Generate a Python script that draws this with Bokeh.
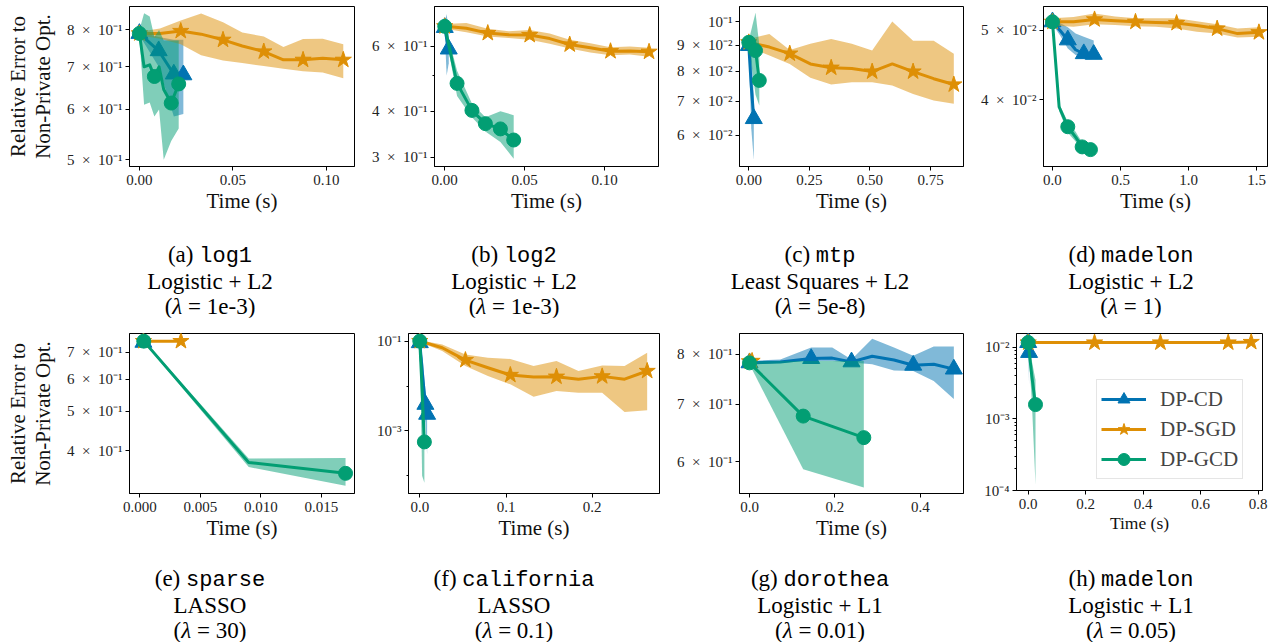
from bokeh.plotting import figure
from bokeh.layouts import row, column
from bokeh.models import Range1d, FixedTicker, Div, Legend, LegendItem
from bokeh.embed import file_html
from bokeh.resources import INLINE

# ---------------- data ----------------
# (a) log1
a_cd_t = [0.0, 0.0103, 0.0184, 0.0235]
a_cd_y = [0.790, 0.742, 0.682, 0.680]
a_cd_lo = [0.785, 0.700, 0.585, 0.590]
a_cd_hi = [0.795, 0.780, 0.772, 0.772]
a_cd_mk = [0, 1, 2, 3]
a_sgd_t = [0.0, 0.011, 0.0221, 0.033, 0.0447, 0.055, 0.0665, 0.077, 0.0875, 0.098, 0.109]
a_sgd_y = [0.790, 0.790, 0.797, 0.788, 0.772, 0.755, 0.740, 0.718, 0.718, 0.722, 0.718]
a_sgd_lo = [0.785, 0.775, 0.760, 0.730, 0.716, 0.710, 0.702, 0.695, 0.689, 0.686, 0.672]
a_sgd_hi = [0.795, 0.804, 0.828, 0.849, 0.823, 0.793, 0.781, 0.752, 0.774, 0.775, 0.760]
a_sgd_mk = [0, 2, 4, 6, 8, 10]
a_gcd_t = [0.0, 0.0025, 0.0055, 0.008, 0.0105, 0.013, 0.017, 0.021]
a_gcd_y = [0.790, 0.700, 0.705, 0.676, 0.700, 0.645, 0.614, 0.658]
a_gcd_lo = [0.780, 0.610, 0.615, 0.585, 0.600, 0.500, 0.535, 0.560]
a_gcd_hi = [0.800, 0.850, 0.840, 0.780, 0.800, 0.770, 0.770, 0.770]
a_gcd_mk = [0, 3, 6, 7]

# (b) log2
b_cd_t = [0.0, 0.0012, 0.0025]
b_cd_y = [0.675, 0.630, 0.590]
b_cd_lo = [0.660, 0.500, 0.540]
b_cd_hi = [0.690, 0.735, 0.660]
b_cd_mk = [0, 2]
b_sgd_t = [0.0, 0.0135, 0.0269, 0.040, 0.0531, 0.0656, 0.0781, 0.091, 0.1036, 0.1157, 0.1277]
b_sgd_y = [0.680, 0.672, 0.652, 0.645, 0.644, 0.630, 0.607, 0.595, 0.582, 0.583, 0.580]
b_sgd_lo = [0.670, 0.655, 0.638, 0.632, 0.625, 0.610, 0.592, 0.577, 0.568, 0.570, 0.562]
b_sgd_hi = [0.690, 0.695, 0.670, 0.660, 0.665, 0.650, 0.625, 0.612, 0.597, 0.600, 0.595]
b_sgd_mk = [0, 2, 4, 6, 8, 10]
b_gcd_t = [0.0, 0.0077, 0.017, 0.0254, 0.0348, 0.0431]
b_gcd_y = [0.680, 0.476, 0.402, 0.370, 0.358, 0.334]
b_gcd_lo = [0.665, 0.440, 0.385, 0.352, 0.330, 0.297]
b_gcd_hi = [0.695, 0.515, 0.420, 0.385, 0.400, 0.390]
b_gcd_mk = [0, 1, 2, 3, 4, 5]

# (c) mtp
c_cd_t = [0.0, 0.010, 0.0206]
c_cd_y = [0.0898, 0.0750, 0.0647]
c_cd_lo = [0.0880, 0.0620, 0.0538]
c_cd_hi = [0.0910, 0.0880, 0.0720]
c_cd_mk = [0, 2]
c_sgd_t = [0.0, 0.085, 0.169, 0.254, 0.340, 0.425, 0.509, 0.592, 0.678, 0.763, 0.846]
c_sgd_y = [0.0911, 0.0892, 0.0866, 0.0827, 0.0813, 0.0810, 0.0799, 0.0827, 0.0799, 0.0774, 0.0754]
c_sgd_lo = [0.0890, 0.0859, 0.0827, 0.0777, 0.0754, 0.0762, 0.0762, 0.0751, 0.0723, 0.0702, 0.0692]
c_sgd_hi = [0.0925, 0.0946, 0.0880, 0.0905, 0.0925, 0.0905, 0.0878, 0.1000, 0.0918, 0.0918, 0.0866]
c_sgd_mk = [0, 2, 4, 6, 8, 10]
c_gcd_t = [0.0, 0.0277, 0.0433]
c_gcd_y = [0.0911, 0.0878, 0.0768]
c_gcd_lo = [0.0900, 0.0720, 0.0686]
c_gcd_hi = [0.0920, 0.1040, 0.0900]
c_gcd_mk = [0, 1, 2]

# (d) madelon L2
d_cd_t = [0.0, 0.056, 0.1125, 0.170, 0.230, 0.303]
d_cd_y = [0.0514, 0.0500, 0.0485, 0.0470, 0.0464, 0.0463]
d_cd_lo = [0.0510, 0.0492, 0.0472, 0.0462, 0.0458, 0.0457]
d_cd_hi = [0.0518, 0.0512, 0.0505, 0.0495, 0.0490, 0.0484]
d_cd_mk = [0, 2, 4, 5]
d_sgd_t = [0.0, 0.155, 0.309, 0.460, 0.610, 0.760, 0.912, 1.060, 1.210, 1.360, 1.517]
d_sgd_y = [0.0514, 0.0514, 0.0518, 0.0516, 0.0514, 0.0513, 0.0512, 0.0508, 0.0503, 0.0495, 0.0497]
d_sgd_lo = [0.0508, 0.0506, 0.0510, 0.0509, 0.0507, 0.0506, 0.0503, 0.0498, 0.0495, 0.0489, 0.0490]
d_sgd_hi = [0.0520, 0.0522, 0.0528, 0.0523, 0.0520, 0.0520, 0.0520, 0.0515, 0.0510, 0.0503, 0.0505]
d_sgd_mk = [0, 2, 4, 6, 8, 10]
d_gcd_t = [0.0, 0.049, 0.1125, 0.170, 0.218, 0.279]
d_gcd_y = [0.0514, 0.0391, 0.0367, 0.0355, 0.0344, 0.0341]
d_gcd_lo = [0.0512, 0.0386, 0.0360, 0.0350, 0.0339, 0.0337]
d_gcd_hi = [0.0516, 0.0395, 0.0373, 0.0361, 0.0349, 0.0345]
d_gcd_mk = [0, 2, 4, 5]

# (e) sparse
e_cd_t = [0.0003]
e_cd_y = [0.740]
e_cd_lo = [0.738]
e_cd_hi = [0.742]
e_cd_mk = [0]
e_sgd_t = [0.0003, 0.0034]
e_sgd_y = [0.745, 0.745]
e_sgd_lo = [0.743, 0.743]
e_sgd_hi = [0.747, 0.747]
e_sgd_mk = [0, 1]
e_gcd_t = [0.00033, 0.0090, 0.0170]
e_gcd_y = [0.745, 0.3745, 0.352]
e_gcd_lo = [0.740, 0.365, 0.328]
e_gcd_hi = [0.750, 0.383, 0.384]
e_gcd_mk = [0, 2]

# (f) california
f_cd_t = [0.0, 0.0035, 0.0065, 0.0085]
f_cd_y = [0.092, 0.015, 0.0039, 0.00234]
f_cd_lo = [0.085, 0.005, 0.0015, 0.0003]
f_cd_hi = [0.100, 0.040, 0.0080, 0.0040]
f_cd_mk = [0, 2, 3]
f_sgd_t = [0.0, 0.026, 0.0529, 0.079, 0.105, 0.132, 0.1585, 0.184, 0.2115, 0.2375, 0.2637]
f_sgd_y = [0.100, 0.071, 0.0378, 0.0255, 0.0176, 0.0158, 0.0161, 0.0142, 0.0164, 0.0142, 0.0216]
f_sgd_lo = [0.095, 0.060, 0.0278, 0.0167, 0.0109, 0.0058, 0.0077, 0.0071, 0.0071, 0.00264, 0.0029]
f_sgd_hi = [0.105, 0.084, 0.050, 0.0426, 0.040, 0.0278, 0.036, 0.0216, 0.0287, 0.0278, 0.055]
f_sgd_mk = [0, 2, 4, 6, 8, 10]
f_gcd_t = [0.0, 0.0027, 0.0053]
f_gcd_y = [0.100, 0.008, 0.00057]
f_gcd_lo = [0.095, 0.0001, 0.00007]
f_gcd_hi = [0.105, 0.030, 0.0015]
f_gcd_mk = [0, 2]

# (g) dorothea
g_cd_t = [0.0, 0.072, 0.1443, 0.1935, 0.2386, 0.287, 0.338, 0.383, 0.431, 0.478]
g_cd_y = [0.782, 0.784, 0.791, 0.792, 0.784, 0.796, 0.788, 0.777, 0.779, 0.769]
g_cd_lo = [0.778, 0.782, 0.786, 0.786, 0.783, 0.779, 0.766, 0.765, 0.745, 0.710]
g_cd_hi = [0.786, 0.789, 0.815, 0.815, 0.789, 0.834, 0.815, 0.797, 0.817, 0.817]
g_cd_mk = [0, 2, 4, 7, 9]
g_sgd_t = [0.0, 0.006]
g_sgd_y = [0.785, 0.786]
g_sgd_lo = [0.783, 0.784]
g_sgd_hi = [0.787, 0.788]
g_sgd_mk = [0, 1]
g_gcd_t = [0.0, 0.1256, 0.2674]
g_gcd_y = [0.782, 0.678, 0.640]
g_gcd_lo = [0.779, 0.588, 0.560]
g_gcd_hi = [0.785, 0.786, 0.786]
g_gcd_mk = [0, 1, 2]

# (h) madelon L1
h_cd_t = [0.0, 0.003]
h_cd_y = [0.0117, 0.0085]
h_cd_lo = [0.0110, 0.0030]
h_cd_hi = [0.0125, 0.0110]
h_cd_mk = [0, 1]
h_sgd_t = [0.0, 0.2307, 0.460, 0.6957, 0.7757]
h_sgd_y = [0.0117, 0.0117, 0.0117, 0.0117, 0.0119]
h_sgd_lo = [0.0114, 0.0114, 0.0114, 0.0114, 0.0116]
h_sgd_hi = [0.0120, 0.0120, 0.0120, 0.0120, 0.0122]
h_sgd_mk = [0, 1, 2, 3, 4]
h_gcd_t = [0.0, 0.0125, 0.0254]
h_gcd_y = [0.0117, 0.0040, 0.00159]
h_gcd_lo = [0.0110, 0.0018, 0.00012]
h_gcd_hi = [0.0125, 0.0065, 0.0035]
h_gcd_mk = [0, 2]

# tick values / labels
a_xticks = [0.0, 0.05, 0.10]; a_xlabels = ["0.00", "0.05", "0.10"]
b_xticks = [0.0, 0.05, 0.10]; b_xlabels = ["0.00", "0.05", "0.10"]
c_xticks = [0.0, 0.25, 0.5, 0.75]; c_xlabels = ["0.00", "0.25", "0.50", "0.75"]
d_xticks = [0.0, 0.5, 1.0, 1.5]; d_xlabels = ["0.0", "0.5", "1.0", "1.5"]
e_xticks = [0.0, 0.005, 0.010, 0.015]; e_xlabels = ["0.000", "0.005", "0.010", "0.015"]
f_xticks = [0.0, 0.1, 0.2]; f_xlabels = ["0.0", "0.1", "0.2"]
g_xticks = [0.0, 0.2, 0.4]; g_xlabels = ["0.0", "0.2", "0.4"]
h_xticks = [0.0, 0.2, 0.4, 0.6, 0.8]; h_xlabels = ["0.0", "0.2", "0.4", "0.6", "0.8"]

S = "\u2002×\u2002"
a_yticks = [0.5, 0.6, 0.7, 0.8]; a_ylabels = ["5" + S + "10⁻¹", "6" + S + "10⁻¹", "7" + S + "10⁻¹", "8" + S + "10⁻¹"]
b_yticks = [0.3, 0.4, 0.6]; b_ylabels = ["3" + S + "10⁻¹", "4" + S + "10⁻¹", "6" + S + "10⁻¹"]
b_yminor = [0.5]
c_yticks = [0.06, 0.07, 0.08, 0.09, 0.1]; c_ylabels = ["6" + S + "10⁻²", "7" + S + "10⁻²", "8" + S + "10⁻²", "9" + S + "10⁻²", "10⁻¹"]
d_yticks = [0.04, 0.05]; d_ylabels = ["4" + S + "10⁻²", "5" + S + "10⁻²"]
e_yticks = [0.4, 0.5, 0.6, 0.7]; e_ylabels = ["4" + S + "10⁻¹", "5" + S + "10⁻¹", "6" + S + "10⁻¹", "7" + S + "10⁻¹"]
f_yticks = [0.001, 0.1]; f_ylabels = ["10⁻³", "10⁻¹"]
f_yminor = [0.0001, 0.01]
g_yticks = [0.6, 0.7, 0.8]; g_ylabels = ["6" + S + "10⁻¹", "7" + S + "10⁻¹", "8" + S + "10⁻¹"]
h_yticks = [0.0001, 0.001, 0.01]; h_ylabels = ["10⁻⁴", "10⁻³", "10⁻²"]
h_yminor = [0.0002, 0.0003, 0.0004, 0.0005, 0.0006, 0.0007, 0.0008, 0.0009,
            0.002, 0.003, 0.004, 0.005, 0.006, 0.007, 0.008, 0.009]

cap_letters = ["(a)", "(b)", "(c)", "(d)", "(e)", "(f)", "(g)", "(h)"]
cap_names = ["log1", "log2", "mtp", "madelon", "sparse", "california", "dorothea", "madelon"]
cap_models = ["Logistic + L2", "Logistic + L2", "Least Squares + L2", "Logistic + L2",
              "LASSO", "LASSO", "Logistic + L1", "Logistic + L1"]
cap_lambdas = ["1e-3", "1e-3", "5e-8", "1", "30", "0.1", "0.01", "0.05"]

methods = ["DP-CD", "DP-SGD", "DP-GCD"]

# ---------------- style ----------------
BLUE, ORANGE, GREEN = "#0173b2", "#de8f05", "#029e73"
COLORS = [BLUE, ORANGE, GREEN]
MARKERS = ["triangle", "star", "circle"]
MSIZES = [17, 17, 14]
SERIF = "Liberation Serif"
MONO = "Liberation Mono"


def make_panel(xr, yr, xt, xl, yt, yl, ymin, series, geom, ylabel=False, xlab_size="21px", legend_loc=None):
    bl, fw, br, bt, fh, bb = geom
    p = figure(frame_width=fw, frame_height=fh, x_range=Range1d(*xr), y_range=Range1d(*yr),
               y_axis_type="log", output_backend="svg", toolbar_location=None,
               min_border_left=bl, min_border_right=br, min_border_top=bt, min_border_bottom=bb,
               background_fill_color="white", border_fill_color="white")
    p.outline_line_color = "black"
    p.outline_line_width = 1
    p.outline_line_alpha = 1
    p.xgrid.visible = False
    p.ygrid.visible = False
    p.xaxis.ticker = FixedTicker(ticks=xt)
    p.xaxis.major_label_overrides = {v: s for v, s in zip(xt, xl)}
    p.yaxis.ticker = FixedTicker(ticks=yt, minor_ticks=ymin)
    p.yaxis.major_label_overrides = {v: s for v, s in zip(yt, yl)}
    for ax in (p.xaxis[0], p.yaxis[0]):
        ax.major_tick_in = 0
        ax.major_tick_out = 4
        ax.minor_tick_in = 0
        ax.minor_tick_out = 2
        ax.axis_line_color = "black"
        ax.major_tick_line_color = "black"
        ax.minor_tick_line_color = "black"
        ax.major_label_text_font = SERIF
        ax.major_label_text_color = "#222222"
        ax.axis_label_text_font = SERIF
        ax.axis_label_text_font_style = "normal"
        ax.axis_label_text_color = "#111111"
    p.xaxis.major_label_text_font_size = "15px"
    p.yaxis.major_label_text_font_size = "15px"
    p.xaxis.major_label_standoff = 4
    p.yaxis.major_label_standoff = 3
    p.xaxis.axis_label = "Time (s)"
    p.xaxis.axis_label_text_font_size = xlab_size
    p.xaxis.axis_label_standoff = 1
    if ylabel:
        p.yaxis.axis_label = "Relative Error to\nNon-Private Opt."
        p.yaxis.axis_label_text_font_size = "21px"
        p.yaxis.axis_label_text_line_height = 1.05
        p.yaxis.axis_label_standoff = 9
    items = []
    for k, (t, y, lo, hi, mk) in enumerate(series):
        c = COLORS[k]
        p.varea(x=t, y1=lo, y2=hi, fill_color=c, fill_alpha=0.5)
        rl = p.line(t, y, line_color=c, line_width=3, line_join="round")
        rs = p.scatter([t[i] for i in mk], [y[i] for i in mk], marker=MARKERS[k], size=MSIZES[k],
                       fill_color=c, line_color=c)
        items.append(LegendItem(label=methods[k], renderers=[rl, rs]))
    if legend_loc is not None:
        leg = Legend(items=items, location=legend_loc)
        leg.label_text_font = SERIF
        leg.label_text_font_size = "21px"
        leg.glyph_width = 45
        leg.glyph_height = 30
        leg.label_height = 30
        leg.label_standoff = 14
        leg.spacing = 0
        leg.padding = 4
        leg.margin = 0
        leg.border_line_color = "#cccccc"
        leg.border_line_width = 1
        leg.background_fill_alpha = 0.85
        p.add_layout(leg)
    return p


# geometry per panel: (left border, frame width, right border, top border, frame height, bottom border)
pa = make_panel((-0.0053, 0.115), (0.488, 0.871), a_xticks, a_xlabels, a_yticks, a_ylabels, [],
                [(a_cd_t, a_cd_y, a_cd_lo, a_cd_hi, a_cd_mk),
                 (a_sgd_t, a_sgd_y, a_sgd_lo, a_sgd_hi, a_sgd_mk),
                 (a_gcd_t, a_gcd_y, a_gcd_lo, a_gcd_hi, a_gcd_mk)],
                (129, 225, 8, 6, 160, 76), ylabel=True)
pb = make_panel((-0.0064, 0.1336), (0.283, 0.770), b_xticks, b_xlabels, b_yticks, b_ylabels, b_yminor,
                [(b_cd_t, b_cd_y, b_cd_lo, b_cd_hi, b_cd_mk),
                 (b_sgd_t, b_sgd_y, b_sgd_lo, b_sgd_hi, b_sgd_mk),
                 (b_gcd_t, b_gcd_y, b_gcd_lo, b_gcd_hi, b_gcd_mk)],
                (72, 224, 7, 6, 160, 76))
pc = make_panel((-0.0384, 0.886), (0.0522, 0.107), c_xticks, c_xlabels, c_yticks, c_ylabels, [],
                [(c_cd_t, c_cd_y, c_cd_lo, c_cd_hi, c_cd_mk),
                 (c_sgd_t, c_sgd_y, c_sgd_lo, c_sgd_hi, c_sgd_mk),
                 (c_gcd_t, c_gcd_y, c_gcd_lo, c_gcd_hi, c_gcd_mk)],
                (74, 224, 7, 6, 160, 76))
pd_ = make_panel((-0.066, 1.58), (0.0323, 0.054), d_xticks, d_xlabels, d_yticks, d_ylabels, [],
                 [(d_cd_t, d_cd_y, d_cd_lo, d_cd_hi, d_cd_mk),
                  (d_sgd_t, d_sgd_y, d_sgd_lo, d_sgd_hi, d_sgd_mk),
                  (d_gcd_t, d_gcd_y, d_gcd_lo, d_gcd_hi, d_gcd_mk)],
                 (73, 224, 11, 6, 160, 76))
pe = make_panel((-0.00085, 0.01774), (0.314, 0.778), e_xticks, e_xlabels, e_yticks, e_ylabels, [],
                [(e_cd_t, e_cd_y, e_cd_lo, e_cd_hi, e_cd_mk),
                 (e_sgd_t, e_sgd_y, e_sgd_lo, e_sgd_hi, e_sgd_mk),
                 (e_gcd_t, e_gcd_y, e_gcd_lo, e_gcd_hi, e_gcd_mk)],
                (129, 225, 8, 14, 160, 75), ylabel=True)
pf = make_panel((-0.0131, 0.278), (4.05e-5, 0.1476), f_xticks, f_xlabels, f_yticks, f_ylabels, f_yminor,
                [(f_cd_t, f_cd_y, f_cd_lo, f_cd_hi, f_cd_mk),
                 (f_sgd_t, f_sgd_y, f_sgd_lo, f_sgd_hi, f_sgd_mk),
                 (f_gcd_t, f_gcd_y, f_gcd_lo, f_gcd_hi, f_gcd_mk)],
                (46, 251, 6, 14, 160, 75))
pg = make_panel((-0.0234, 0.5006), (0.551, 0.846), g_xticks, g_xlabels, g_yticks, g_ylabels, [],
                [(g_cd_t, g_cd_y, g_cd_lo, g_cd_hi, g_cd_mk),
                 (g_sgd_t, g_sgd_y, g_sgd_lo, g_sgd_hi, g_sgd_mk),
                 (g_gcd_t, g_gcd_y, g_gcd_lo, g_gcd_hi, g_gcd_mk)],
                (74, 224, 7, 14, 160, 75))
ph = make_panel((-0.0407, 0.815), (1e-4, 0.01567), h_xticks, h_xlabels, h_yticks, h_ylabels, h_yminor,
                [(h_cd_t, h_cd_y, h_cd_lo, h_cd_hi, h_cd_mk),
                 (h_sgd_t, h_sgd_y, h_sgd_lo, h_sgd_hi, h_sgd_mk),
                 (h_gcd_t, h_gcd_y, h_gcd_lo, h_gcd_hi, h_gcd_mk)],
                (46, 246, 16, 16, 157, 76), xlab_size="17.5px", legend_loc=(80, 11))

DIV_W = [420, 188, 424, 198]


def caption(i, w):
    html = ('<div style="width:%dpx;text-align:center;font-family:\'%s\';font-size:23px;'
            'line-height:25px;color:#000;white-space:nowrap">'
            '%s <span style="font-family:\'%s\';font-size:22px">%s</span><br>%s<br>'
            '(<i>λ</i> = %s)</div>') % (w, SERIF, cap_letters[i], MONO, cap_names[i],
                                        cap_models[i], cap_lambdas[i])
    return Div(text=html, width=w, height=75, margin=(0, 0, 0, 0))


row1 = row(pa, pb, pc, pd_, spacing=0)
caps1 = row(*[caption(i, DIV_W[i]) for i in range(4)], spacing=0)
row2 = row(pe, pf, pg, ph, spacing=0)
caps2 = row(*[caption(i + 4, DIV_W[i]) for i in range(4)], spacing=0)
layout = column(row1, caps1, row2, caps2, spacing=0)

open("out.html", "w").write(file_html(layout, INLINE))
